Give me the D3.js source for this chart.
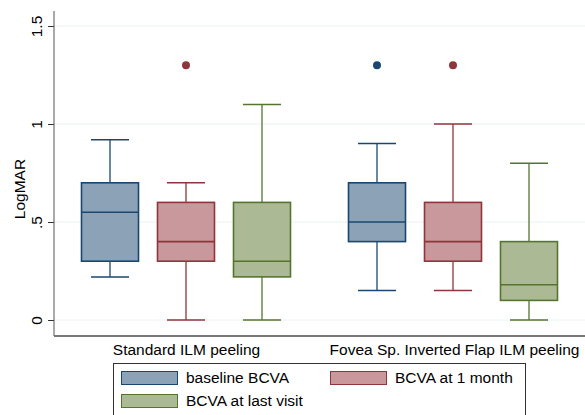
<!DOCTYPE html>
<html><head><meta charset="utf-8">
<script src="https://cdn.jsdelivr.net/npm/d3@7"></script>
<style>body{margin:0;background:#fff}svg{display:block;font-family:"Liberation Sans",Arial,Helvetica,sans-serif}</style>
</head><body><svg id="c" width="585" height="415"></svg>
<script>
const groups = ["Standard ILM peeling", "Fovea Sp. Inverted Flap ILM peeling"];
const seriesNames = ["baseline BCVA", "BCVA at 1 month", "BCVA at last visit"];
const strokeColors = ["#1a476f", "#90353b", "#55752f"];
const fillColors = ["#8ca3b7", "#c8989c", "#abb995"];
// [lowerWhisker, Q1, median, Q3, upperWhisker] per group
const baseline = [[0.22, 0.30, 0.55, 0.70, 0.92], [0.15, 0.40, 0.50, 0.70, 0.90]];
const month1   = [[0.00, 0.30, 0.40, 0.60, 0.70], [0.15, 0.30, 0.40, 0.60, 1.00]];
const lastVis  = [[0.00, 0.22, 0.30, 0.60, 1.10], [0.00, 0.10, 0.18, 0.40, 0.80]];
const outliers = [[[], [1.3], []], [[1.3], [1.3], []]];
const yTicks = [0, 0.5, 1, 1.5];
const yTickLabels = ["0", ".5", "1", "1.5"];

(function(){
const series = [baseline, month1, lastVis];
const svg = d3.select("#c");
const pL = 54, pR = 585, pT = 11, pB = 336;
const fs = 15.5;

const y = d3.scaleLinear().domain([0, 1.5]).range([320, 26]);
const x0 = d3.scaleBand().domain(groups).range([43, 577]).padding(0);
const xs = d3.scaleBand().domain(seriesNames).range([29, 257]).padding(0);

// gridlines
svg.append("g").selectAll("line").data(yTicks).join("line")
  .attr("x1", pL).attr("x2", pR)
  .attr("y1", d => y(d)).attr("y2", d => y(d))
  .attr("stroke", "#eaf2f3").attr("stroke-width", 1);

// y axis
const yAxis = d3.axisLeft(y).tickValues(yTicks).tickFormat((d, i) => yTickLabels[i]).tickSize(6).tickSizeOuter(0);
const ga = svg.append("g").attr("transform", `translate(${pL},0)`).call(yAxis);
ga.select(".domain").remove();
ga.selectAll(".tick line").attr("stroke", "#333");
ga.selectAll(".tick text").attr("font-size", fs).attr("fill", "#000")
  .attr("text-anchor", "middle")
  .attr("transform", "translate(-12,0) rotate(-90)").attr("x", 0).attr("y", 0).attr("dy", "0");

svg.append("line").attr("x1", pL).attr("x2", pL).attr("y1", pT).attr("y2", pB).attr("stroke", "#555").attr("stroke-width", 1);
svg.append("line").attr("x1", pL).attr("x2", pR).attr("y1", pB).attr("y2", pB).attr("stroke", "#777").attr("stroke-width", 2);

svg.append("text").attr("transform", "translate(25,189) rotate(-90)")
  .attr("text-anchor", "middle").attr("font-size", fs).text("LogMAR");

// boxes
const bw = 57, cw = 38;
groups.forEach((g, gi) => {
  series.forEach((s, si) => {
    const v = s[gi];
    const cx = x0(g) + xs(seriesNames[si]) + xs.bandwidth() / 2;
    const G = svg.append("g");
    const sc = strokeColors[si];
    G.append("line").attr("x1", cx).attr("x2", cx).attr("y1", y(v[3])).attr("y2", y(v[4])).attr("stroke", sc).attr("stroke-width", 1.3);
    G.append("line").attr("x1", cx).attr("x2", cx).attr("y1", y(v[1])).attr("y2", y(v[0])).attr("stroke", sc).attr("stroke-width", 1.3);
    G.append("line").attr("x1", cx - cw/2).attr("x2", cx + cw/2).attr("y1", y(v[4])).attr("y2", y(v[4])).attr("stroke", sc).attr("stroke-width", 1.5);
    G.append("line").attr("x1", cx - cw/2).attr("x2", cx + cw/2).attr("y1", y(v[0])).attr("y2", y(v[0])).attr("stroke", sc).attr("stroke-width", 1.5);
    G.append("rect").attr("x", cx - bw/2).attr("width", bw).attr("y", y(v[3])).attr("height", y(v[1]) - y(v[3]))
      .attr("fill", fillColors[si]).attr("stroke", sc).attr("stroke-width", 1.6);
    G.append("line").attr("x1", cx - bw/2).attr("x2", cx + bw/2).attr("y1", y(v[2])).attr("y2", y(v[2])).attr("stroke", sc).attr("stroke-width", 1.6);
    outliers[gi][si].forEach(o => {
      G.append("circle").attr("cx", cx).attr("cy", y(o)).attr("r", 4).attr("fill", sc);
    });
  });
  const gc = x0(g) + xs(seriesNames[1]) + xs.bandwidth() / 2 + (gi === 1 ? 1.5 : 0.5);
  svg.append("text").attr("x", gc).attr("y", 354.5).attr("text-anchor", "middle").attr("font-size", fs).text(g);
});

// legend
svg.append("rect").attr("x", 113.5).attr("y", 363.5).attr("width", 412).attr("height", 60)
  .attr("fill", "#fff").attr("stroke", "#333").attr("stroke-width", 1);
const legPos = [[121, 371], [330, 371], [121, 394]];
seriesNames.forEach((n, i) => {
  const [lx, ly] = legPos[i];
  svg.append("rect").attr("x", lx + 0.5).attr("y", ly + 0.5).attr("width", 56).attr("height", 13)
    .attr("fill", fillColors[i]).attr("stroke", strokeColors[i]).attr("stroke-width", 1);
  svg.append("text").attr("x", lx + 65).attr("y", ly + 12).attr("font-size", fs).text(n);
});
})();
</script></body></html>
